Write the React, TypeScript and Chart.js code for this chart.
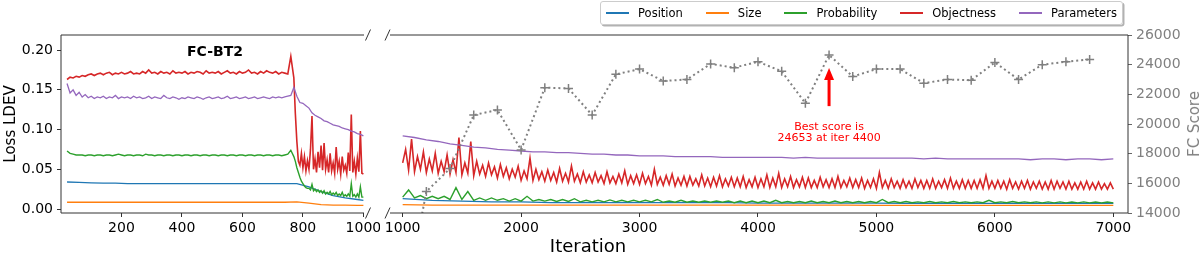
import React, { useEffect, useRef } from "react";
import { Chart, registerables } from "chart.js";
Chart.register(...registerables);

const FONT = "'DejaVu Sans', 'Liberation Sans', sans-serif";

// ---------- Data ----------
const seriesNames = ["Position", "Size", "Probability", "Objectness", "Parameters"];
const seriesColors = ["#1f77b4", "#ff7f0e", "#2ca02c", "#d62728", "#9467bd"];
const seriesWidths = [1.3, 1.3, 1.4, 1.6, 1.3];

// Left panel (iterations 0-1000)
const leftIter = [
  20, 30, 40, 50, 60, 70, 80, 90, 100, 110,
  120, 130, 140, 150, 160, 170, 180, 190, 200, 210,
  220, 230, 240, 250, 260, 270, 280, 290, 300, 310,
  320, 330, 340, 350, 360, 370, 380, 390, 400, 410,
  420, 430, 440, 450, 460, 470, 480, 490, 500, 510,
  520, 530, 540, 550, 560, 570, 580, 590, 600, 610,
  620, 630, 640, 650, 660, 670, 680, 690, 700, 710,
  720, 730, 740, 750, 760, 770, 780, 790, 800, 810,
  820, 830, 840, 850, 860, 870, 880, 890, 900, 910,
  920, 930, 940, 950, 960, 970, 980, 990, 1000,
];
const leftIterDense = [
  20, 30, 40, 50, 60, 70, 80, 90, 100, 110,
  120, 130, 140, 150, 160, 170, 180, 190, 200, 210,
  220, 230, 240, 250, 260, 270, 280, 290, 300, 310,
  320, 330, 340, 350, 360, 370, 380, 390, 400, 410,
  420, 430, 440, 450, 460, 470, 480, 490, 500, 510,
  520, 530, 540, 550, 560, 570, 580, 590, 600, 610,
  620, 630, 640, 650, 660, 670, 680, 690, 700, 710,
  720, 730, 740, 750, 760, 770,
  775, 780, 785, 790, 795, 800, 805, 810, 815, 820,
  825, 830, 835, 840, 845, 850, 855, 860, 865, 870,
  875, 880, 885, 890, 895, 900, 905, 910, 915, 920,
  925, 930, 935, 940, 945, 950, 955, 960, 965, 970,
  975, 980, 985, 990, 995, 1000,
];
const leftObjectness = [
  0.163, 0.166, 0.165, 0.167, 0.166, 0.168, 0.167, 0.169, 0.170, 0.168,
  0.170, 0.171, 0.169, 0.171, 0.172, 0.169, 0.171, 0.170, 0.172, 0.170,
  0.171, 0.173, 0.170, 0.171, 0.170, 0.173, 0.171, 0.175, 0.171, 0.172,
  0.170, 0.173, 0.171, 0.172, 0.170, 0.174, 0.171, 0.172, 0.171, 0.173,
  0.170, 0.172, 0.171, 0.173, 0.172, 0.170, 0.174, 0.171, 0.172, 0.171,
  0.173, 0.170, 0.172, 0.174, 0.171, 0.172, 0.170, 0.173, 0.171, 0.172,
  0.175, 0.171, 0.172, 0.170, 0.173, 0.171, 0.174, 0.172, 0.171, 0.173,
  0.170, 0.172, 0.171, 0.170, 0.192, 0.165,
  0.120, 0.085, 0.060, 0.055, 0.070, 0.052, 0.066, 0.048, 0.061, 0.050,
  0.075, 0.117, 0.050, 0.063, 0.046, 0.072, 0.052, 0.080, 0.049, 0.083,
  0.050, 0.062, 0.046, 0.070, 0.048, 0.058, 0.045, 0.078, 0.050, 0.060,
  0.044, 0.066, 0.049, 0.055, 0.045, 0.071, 0.048, 0.119, 0.046, 0.060,
  0.044, 0.064, 0.047, 0.098, 0.045, 0.044,
];
const leftProbability = [
  0.073, 0.070, 0.069, 0.068, 0.068, 0.068, 0.067, 0.068, 0.068, 0.067,
  0.068, 0.068, 0.067, 0.068, 0.068, 0.067, 0.068, 0.069, 0.068, 0.067,
  0.068, 0.068, 0.067, 0.068, 0.068, 0.067, 0.069, 0.068, 0.068, 0.067,
  0.068, 0.068, 0.067, 0.068, 0.068, 0.067, 0.068, 0.068, 0.067, 0.068,
  0.068, 0.067, 0.068, 0.068, 0.067, 0.068, 0.068, 0.067, 0.068, 0.068,
  0.067, 0.068, 0.068, 0.067, 0.068, 0.068, 0.067, 0.068, 0.068, 0.067,
  0.068, 0.068, 0.067, 0.068, 0.068, 0.067, 0.068, 0.068, 0.067, 0.068,
  0.068, 0.067, 0.068, 0.069, 0.074, 0.066,
  0.060, 0.052, 0.046, 0.040, 0.035, 0.032, 0.029, 0.027, 0.026, 0.026,
  0.024, 0.031, 0.023, 0.025, 0.022, 0.024, 0.021, 0.023, 0.020, 0.023,
  0.019, 0.021, 0.019, 0.022, 0.018, 0.020, 0.018, 0.021, 0.017, 0.019,
  0.017, 0.021, 0.016, 0.018, 0.016, 0.019, 0.016, 0.032, 0.016, 0.018,
  0.015, 0.019, 0.015, 0.028, 0.015, 0.015,
];
const leftParameters = [
  0.158, 0.146, 0.150, 0.143, 0.147, 0.141, 0.144, 0.140, 0.142, 0.139,
  0.141, 0.140, 0.142, 0.139, 0.141, 0.140, 0.143, 0.139, 0.141, 0.140,
  0.141, 0.139, 0.142, 0.140, 0.141, 0.139, 0.140, 0.142, 0.139, 0.141,
  0.140, 0.139, 0.143, 0.140, 0.139, 0.141, 0.140, 0.138, 0.140, 0.139,
  0.141, 0.140, 0.139, 0.141, 0.140, 0.138, 0.140, 0.141, 0.139, 0.140,
  0.141, 0.139, 0.140, 0.142, 0.139, 0.140, 0.141, 0.139, 0.140, 0.141,
  0.139, 0.140, 0.141, 0.139, 0.140, 0.141, 0.140, 0.139, 0.141, 0.140,
  0.141, 0.140, 0.141, 0.142, 0.143, 0.153, 0.142, 0.134, 0.133, 0.130,
  0.127, 0.121, 0.118, 0.116, 0.114, 0.111, 0.110, 0.108, 0.106, 0.105,
  0.104, 0.102, 0.101, 0.100, 0.098, 0.097, 0.095, 0.094, 0.092,
];
const leftIterCoarse = [
  20, 60, 100, 140, 180, 220, 260, 300, 340, 380, 420, 460, 500,
  540, 580, 620, 660, 700, 740, 780, 820, 860, 900, 940, 980, 1000,
];
const leftPosition = [
  0.034, 0.0335, 0.033, 0.0325, 0.0325, 0.032, 0.032, 0.032, 0.032, 0.032, 0.032, 0.032, 0.032,
  0.032, 0.032, 0.032, 0.032, 0.032, 0.032, 0.032, 0.028, 0.022, 0.017, 0.014, 0.012, 0.011,
];
const leftSize = [
  0.0085, 0.0085, 0.0085, 0.0085, 0.0085, 0.0085, 0.0085, 0.0085, 0.0085, 0.0085, 0.0085, 0.0085, 0.0085,
  0.0085, 0.0085, 0.0085, 0.0085, 0.0085, 0.0085, 0.009, 0.0075, 0.0055, 0.005, 0.0048, 0.0045, 0.0045,
];

// Right panel (iterations 1000-7000)
const rightIter25 = [
  1000, 1025, 1050, 1075, 1100, 1125, 1150, 1175,
  1200, 1225, 1250, 1275, 1300, 1325, 1350, 1375,
  1400, 1425, 1450, 1475, 1500, 1525, 1550, 1575,
  1600, 1625, 1650, 1675, 1700, 1725, 1750, 1775,
  1800, 1825, 1850, 1875, 1900, 1925, 1950, 1975,
  2000, 2025, 2050, 2075, 2100, 2125, 2150, 2175,
  2200, 2225, 2250, 2275, 2300, 2325, 2350, 2375,
  2400, 2425, 2450, 2475, 2500, 2525, 2550, 2575,
  2600, 2625, 2650, 2675, 2700, 2725, 2750, 2775,
  2800, 2825, 2850, 2875, 2900, 2925, 2950, 2975,
  3000, 3025, 3050, 3075, 3100, 3125, 3150, 3175,
  3200, 3225, 3250, 3275, 3300, 3325, 3350, 3375,
  3400, 3425, 3450, 3475, 3500, 3525, 3550, 3575,
  3600, 3625, 3650, 3675, 3700, 3725, 3750, 3775,
  3800, 3825, 3850, 3875, 3900, 3925, 3950, 3975,
  4000, 4025, 4050, 4075, 4100, 4125, 4150, 4175,
  4200, 4225, 4250, 4275, 4300, 4325, 4350, 4375,
  4400, 4425, 4450, 4475, 4500, 4525, 4550, 4575,
  4600, 4625, 4650, 4675, 4700, 4725, 4750, 4775,
  4800, 4825, 4850, 4875, 4900, 4925, 4950, 4975,
  5000, 5025, 5050, 5075, 5100, 5125, 5150, 5175,
  5200, 5225, 5250, 5275, 5300, 5325, 5350, 5375,
  5400, 5425, 5450, 5475, 5500, 5525, 5550, 5575,
  5600, 5625, 5650, 5675, 5700, 5725, 5750, 5775,
  5800, 5825, 5850, 5875, 5900, 5925, 5950, 5975,
  6000, 6025, 6050, 6075, 6100, 6125, 6150, 6175,
  6200, 6225, 6250, 6275, 6300, 6325, 6350, 6375,
  6400, 6425, 6450, 6475, 6500, 6525, 6550, 6575,
  6600, 6625, 6650, 6675, 6700, 6725, 6750, 6775,
  6800, 6825, 6850, 6875, 6900, 6925, 6950, 6975,
  7000,
];
const rightObjectness = [
  0.058, 0.075, 0.049, 0.088, 0.047, 0.066, 0.050, 0.072,
  0.046, 0.063, 0.048, 0.070, 0.045, 0.060, 0.047, 0.068,
  0.044, 0.062, 0.046, 0.090, 0.043, 0.058, 0.045, 0.085,
  0.042, 0.060, 0.044, 0.055, 0.041, 0.058, 0.043, 0.053,
  0.039, 0.056, 0.041, 0.052, 0.038, 0.050, 0.040, 0.054,
  0.036, 0.048, 0.038, 0.064, 0.036, 0.050, 0.037, 0.047,
  0.035, 0.049, 0.036, 0.046, 0.034, 0.051, 0.035, 0.045,
  0.034, 0.054, 0.035, 0.044, 0.033, 0.047, 0.034, 0.043,
  0.033, 0.046, 0.034, 0.042, 0.032, 0.047, 0.033, 0.041,
  0.032, 0.044, 0.033, 0.048, 0.031, 0.042, 0.032, 0.043,
  0.031, 0.045, 0.032, 0.041, 0.030, 0.050, 0.031, 0.040,
  0.030, 0.042, 0.031, 0.044, 0.029, 0.039, 0.030, 0.041,
  0.029, 0.041, 0.030, 0.038, 0.029, 0.043, 0.029, 0.039,
  0.028, 0.040, 0.029, 0.042, 0.028, 0.038, 0.029, 0.040,
  0.028, 0.039, 0.028, 0.041, 0.027, 0.037, 0.028, 0.040,
  0.027, 0.038, 0.028, 0.043, 0.027, 0.039, 0.028, 0.045,
  0.027, 0.038, 0.028, 0.041, 0.027, 0.037, 0.028, 0.040,
  0.027, 0.039, 0.027, 0.036, 0.027, 0.040, 0.028, 0.037,
  0.027, 0.038, 0.027, 0.041, 0.027, 0.036, 0.028, 0.039,
  0.027, 0.037, 0.027, 0.039, 0.026, 0.036, 0.027, 0.038,
  0.026, 0.046, 0.027, 0.036, 0.026, 0.038, 0.027, 0.035,
  0.026, 0.037, 0.027, 0.035, 0.026, 0.038, 0.027, 0.036,
  0.026, 0.036, 0.026, 0.038, 0.026, 0.035, 0.027, 0.037,
  0.026, 0.039, 0.026, 0.035, 0.026, 0.037, 0.026, 0.036,
  0.026, 0.036, 0.026, 0.037, 0.026, 0.042, 0.026, 0.035,
  0.026, 0.036, 0.026, 0.035, 0.025, 0.037, 0.026, 0.034,
  0.025, 0.035, 0.026, 0.036, 0.025, 0.034, 0.026, 0.035,
  0.025, 0.034, 0.025, 0.036, 0.025, 0.035, 0.026, 0.034,
  0.025, 0.035, 0.025, 0.033, 0.025, 0.034, 0.025, 0.035,
  0.025, 0.033, 0.025, 0.034, 0.025, 0.032, 0.025, 0.033,
  0.025,
];
const rightIter50 = [
  1000, 1050, 1100, 1150, 1200, 1250, 1300, 1350, 1400, 1450,
  1500, 1550, 1600, 1650, 1700, 1750, 1800, 1850, 1900, 1950,
  2000, 2050, 2100, 2150, 2200, 2250, 2300, 2350, 2400, 2450,
  2500, 2550, 2600, 2650, 2700, 2750, 2800, 2850, 2900, 2950,
  3000, 3050, 3100, 3150, 3200, 3250, 3300, 3350, 3400, 3450,
  3500, 3550, 3600, 3650, 3700, 3750, 3800, 3850, 3900, 3950,
  4000, 4050, 4100, 4150, 4200, 4250, 4300, 4350, 4400, 4450,
  4500, 4550, 4600, 4650, 4700, 4750, 4800, 4850, 4900, 4950,
  5000, 5050, 5100, 5150, 5200, 5250, 5300, 5350, 5400, 5450,
  5500, 5550, 5600, 5650, 5700, 5750, 5800, 5850, 5900, 5950,
  6000, 6050, 6100, 6150, 6200, 6250, 6300, 6350, 6400, 6450,
  6500, 6550, 6600, 6650, 6700, 6750, 6800, 6850, 6900, 6950,
  7000,
];
const rightProbability = [
  0.015, 0.024, 0.014, 0.017, 0.013, 0.016, 0.013, 0.016, 0.012, 0.027,
  0.012, 0.022, 0.011, 0.014, 0.011, 0.014, 0.011, 0.013, 0.010, 0.013,
  0.010, 0.016, 0.010, 0.012, 0.010, 0.012, 0.0095, 0.012, 0.0095, 0.013,
  0.009, 0.011, 0.009, 0.011, 0.009, 0.0115, 0.009, 0.011, 0.009, 0.011,
  0.009, 0.011, 0.009, 0.012, 0.0085, 0.010, 0.0085, 0.011, 0.0085, 0.010,
  0.0085, 0.010, 0.0085, 0.010, 0.0085, 0.010, 0.008, 0.010, 0.008, 0.010,
  0.008, 0.010, 0.008, 0.011, 0.008, 0.0095, 0.008, 0.0095, 0.008, 0.010,
  0.008, 0.0095, 0.008, 0.010, 0.008, 0.0095, 0.008, 0.0095, 0.008, 0.0095,
  0.008, 0.012, 0.008, 0.0095, 0.008, 0.0095, 0.008, 0.009, 0.008, 0.0095,
  0.008, 0.009, 0.008, 0.0095, 0.008, 0.009, 0.008, 0.009, 0.008, 0.011,
  0.008, 0.009, 0.008, 0.0095, 0.008, 0.009, 0.008, 0.009, 0.0078, 0.009,
  0.0078, 0.009, 0.0078, 0.0088, 0.0078, 0.009, 0.0078, 0.0088, 0.0078, 0.0088,
  0.0078,
];
const rightIter100 = [
  1000, 1100, 1200, 1300, 1400, 1500, 1600, 1700, 1800, 1900,
  2000, 2100, 2200, 2300, 2400, 2500, 2600, 2700, 2800, 2900,
  3000, 3100, 3200, 3300, 3400, 3500, 3600, 3700, 3800, 3900,
  4000, 4100, 4200, 4300, 4400, 4500, 4600, 4700, 4800, 4900,
  5000, 5100, 5200, 5300, 5400, 5500, 5600, 5700, 5800, 5900,
  6000, 6100, 6200, 6300, 6400, 6500, 6600, 6700, 6800, 6900,
  7000,
];
const rightParameters = [
  0.092, 0.090, 0.087, 0.085, 0.082, 0.080, 0.078, 0.077, 0.075, 0.074,
  0.073, 0.072, 0.072, 0.071, 0.071, 0.070, 0.069, 0.069, 0.068, 0.068,
  0.067, 0.067, 0.067, 0.066, 0.066, 0.066, 0.066, 0.065, 0.065, 0.065,
  0.065, 0.065, 0.065, 0.064, 0.065, 0.064, 0.064, 0.064, 0.064, 0.064,
  0.064, 0.064, 0.064, 0.064, 0.063, 0.064, 0.063, 0.063, 0.063, 0.063,
  0.063, 0.063, 0.063, 0.062, 0.063, 0.063, 0.062, 0.063, 0.063, 0.062,
  0.063,
];
const rightIter250 = [
  1000, 1250, 1500, 1750, 2000, 2250, 2500, 2750, 3000, 3250, 3500, 3750, 4000,
  4250, 4500, 4750, 5000, 5250, 5500, 5750, 6000, 6250, 6500, 6750, 7000,
];
const rightPosition = [
  0.013, 0.011, 0.010, 0.009, 0.009, 0.008, 0.008, 0.008, 0.008, 0.008, 0.008, 0.008, 0.0075,
  0.0075, 0.0075, 0.0075, 0.0075, 0.007, 0.007, 0.007, 0.007, 0.007, 0.007, 0.007, 0.007,
];
const rightSize = [
  0.0055, 0.005, 0.005, 0.005, 0.005, 0.005, 0.005, 0.005, 0.005, 0.005, 0.005, 0.005, 0.0048,
  0.0048, 0.0048, 0.0048, 0.0046, 0.0046, 0.0046, 0.0045, 0.0045, 0.0045, 0.0045, 0.0045, 0.0045,
];

// FC score (secondary axis)
const fcIter = [
  1000, 1200, 1400, 1600, 1800, 2000, 2200, 2400, 2600, 2800,
  3000, 3200, 3400, 3600, 3800, 4000, 4200, 4400, 4600, 4800,
  5000, 5200, 5400, 5600, 5800, 6000, 6200, 6400, 6600, 6800,
];
const fcScore = [
  7000, 15450, 17000, 20600, 20950, 18250, 22450, 22400, 20600, 23350,
  23700, 22900, 23000, 24050, 23800, 24200, 23550, 21400, 24653, 23200,
  23700, 23700, 22750, 23000, 22950, 24150, 23000, 24000, 24200, 24350,
];

// Ticks
const leftXTicks = [200, 400, 600, 800, 1000];
const rightXTicks = [1000, 2000, 3000, 4000, 5000, 6000, 7000];
const lossTicks = [0, 0.05, 0.1, 0.15, 0.2];
const fcTicks = [14000, 16000, 18000, 20000, 22000, 24000, 26000];

// Annotation
const bestIter = 4600;
const arrowTipScore = 23772;
const arrowTailScore = 21205;
const annotLines = ["Best score is", "24653 at iter 4400"];

// ---------- Helpers ----------
const pts = (xs: number[], ys: number[]) => xs.map((x, i) => ({ x, y: ys[i] }));

function lossDs(idx: number, xs: number[], ys: number[]) {
  return {
    label: seriesNames[idx],
    data: pts(xs, ys),
    borderColor: seriesColors[idx],
    backgroundColor: seriesColors[idx],
    borderWidth: seriesWidths[idx],
    pointRadius: 0,
    tension: 0,
    order: 10 - idx,
    yAxisID: "y",
  };
}

const FRAME = "#333";

function framePlugin(side: "left" | "right") {
  return {
    id: "frame-" + side,
    afterDatasetsDraw(chart: any) {
      const { ctx, chartArea: a } = chart;
      ctx.save();
      ctx.strokeStyle = FRAME;
      ctx.lineWidth = 1;
      ctx.beginPath();
      ctx.moveTo(a.left, a.top);
      ctx.lineTo(a.right, a.top);
      ctx.moveTo(a.left, a.bottom);
      ctx.lineTo(a.right, a.bottom);
      if (side === "left") {
        ctx.moveTo(a.left, a.top);
        ctx.lineTo(a.left, a.bottom);
      } else {
        ctx.moveTo(a.right, a.top);
        ctx.lineTo(a.right, a.bottom);
      }
      ctx.stroke();
      const cx = side === "left" ? a.right + 4 : a.left - 2.5;
      ctx.beginPath();
      for (const y of [a.top, a.bottom]) {
        ctx.moveTo(cx - 2.5, y + 5.5);
        ctx.lineTo(cx + 2.5, y - 5.5);
      }
      ctx.stroke();
      ctx.restore();
    },
  };
}

const annotPlugin = {
  id: "annot",
  afterDatasetsDraw(chart: any) {
    const { ctx } = chart;
    const x = chart.scales.x.getPixelForValue(bestIter);
    const yTip = chart.scales.y2.getPixelForValue(arrowTipScore);
    const yTail = chart.scales.y2.getPixelForValue(arrowTailScore);
    ctx.save();
    ctx.strokeStyle = "#ff0000";
    ctx.fillStyle = "#ff0000";
    ctx.lineWidth = 3;
    ctx.beginPath();
    ctx.moveTo(x, yTail);
    ctx.lineTo(x, yTip + 10);
    ctx.stroke();
    ctx.beginPath();
    ctx.moveTo(x, yTip);
    ctx.lineTo(x - 5, yTip + 12);
    ctx.lineTo(x + 5, yTip + 12);
    ctx.closePath();
    ctx.fill();
    ctx.font = `11px ${FONT}`;
    ctx.textAlign = "center";
    ctx.textBaseline = "middle";
    ctx.fillText(annotLines[0], x, yTail + 21);
    ctx.fillText(annotLines[1], x, yTail + 32);
    ctx.restore();
  },
};

function xAxis(min: number, max: number, ticks: number[]) {
  return {
    type: "linear" as const,
    min,
    max,
    afterBuildTicks: (s: any) => {
      s.ticks = ticks.map((v) => ({ value: v }));
    },
    afterFit: (s: any) => {
      s.height = 40;
      s.paddingLeft = 0;
      s.paddingRight = 0;
    },
    grid: { drawOnChartArea: false, drawTicks: true, tickLength: 4, tickColor: FRAME, tickWidth: 1 },
    border: { display: false },
    ticks: {
      color: "#000",
      font: { family: FONT, size: 14 },
      padding: 3,
      maxRotation: 0,
      autoSkip: false,
      callback: (v: any) => String(v),
    },
  };
}

const lossMin = -0.005;
const lossMax = 0.219;

export default function App() {
  const leftRef = useRef<HTMLCanvasElement>(null);
  const rightRef = useRef<HTMLCanvasElement>(null);

  useEffect(() => {
    document.body.style.margin = "0";
    const left = new Chart(leftRef.current as HTMLCanvasElement, {
      type: "line",
      data: {
        datasets: [
          lossDs(0, leftIterCoarse, leftPosition),
          lossDs(1, leftIterCoarse, leftSize),
          lossDs(2, leftIterDense, leftProbability),
          lossDs(3, leftIterDense, leftObjectness),
          lossDs(4, leftIter, leftParameters),
        ] as any,
      },
      options: {
        responsive: false,
        animation: false,
        devicePixelRatio: 1,
        layout: { padding: { top: 35, right: 16, left: 0, bottom: 0 } },
        plugins: { legend: { display: false }, tooltip: { enabled: false } },
        scales: {
          x: xAxis(0, 1002, leftXTicks) as any,
          y: {
            type: "linear",
            min: lossMin,
            max: lossMax,
            afterBuildTicks: (s: any) => {
              s.ticks = lossTicks.map((v) => ({ value: v }));
            },
            afterFit: (s: any) => {
              s.width = 61;
              s.paddingTop = 0;
              s.paddingBottom = 0;
            },
            grid: { drawOnChartArea: false, drawTicks: true, tickLength: 4, tickColor: FRAME, tickWidth: 1 },
            border: { display: false },
            ticks: {
              color: "#000",
              font: { family: FONT, size: 14 },
              padding: 4,
              callback: (v: any) => Number(v).toFixed(2),
            },
            title: {
              display: true,
              text: "Loss LDEV",
              color: "#000",
              font: { family: FONT, size: 15 },
              padding: { top: 2, bottom: 0 },
            },
          },
        },
      },
      plugins: [framePlugin("left")],
    });

    const right = new Chart(rightRef.current as HTMLCanvasElement, {
      type: "line",
      data: {
        datasets: [
          lossDs(0, rightIter250, rightPosition),
          lossDs(1, rightIter250, rightSize),
          lossDs(2, rightIter50, rightProbability),
          lossDs(3, rightIter25, rightObjectness),
          lossDs(4, rightIter100, rightParameters),
          {
            label: "FC Score",
            data: pts(fcIter, fcScore),
            borderColor: "#808080",
            backgroundColor: "#808080",
            borderWidth: 2,
            borderDash: [2, 3],
            pointStyle: "cross",
            pointRadius: 4.5,
            pointBorderWidth: 1.5,
            pointBorderColor: "#808080",
            tension: 0,
            order: 0,
            yAxisID: "y2",
          },
        ] as any,
      },
      options: {
        responsive: false,
        animation: false,
        devicePixelRatio: 1,
        layout: { padding: { top: 35, right: 0, left: 10, bottom: 0 } },
        plugins: { legend: { display: false }, tooltip: { enabled: false } },
        scales: {
          x: xAxis(893, 7124, rightXTicks) as any,
          y: {
            type: "linear",
            display: false,
            min: lossMin,
            max: lossMax,
          },
          y2: {
            type: "linear",
            position: "right",
            min: 14000,
            max: 26000,
            afterBuildTicks: (s: any) => {
              s.ticks = fcTicks.map((v) => ({ value: v }));
            },
            afterFit: (s: any) => {
              s.width = 72;
              s.paddingTop = 0;
              s.paddingBottom = 0;
            },
            grid: { drawOnChartArea: false, drawTicks: true, tickLength: 4, tickColor: "#666", tickWidth: 1 },
            border: { display: false },
            ticks: {
              color: "#808080",
              font: { family: FONT, size: 14 },
              padding: 4,
              callback: (v: any) => String(v),
            },
          },
        },
      },
      plugins: [framePlugin("right"), annotPlugin],
    });

    return () => {
      left.destroy();
      right.destroy();
    };
  }, []);

  return (
    <div
      style={{
        position: "fixed",
        left: 0,
        top: 0,
        width: 1200,
        height: 253,
        background: "#fff",
        fontFamily: FONT,
        overflow: "hidden",
      }}
    >
      <canvas
        ref={leftRef}
        width={380}
        height={253}
        style={{ position: "absolute", left: 0, top: 0, width: 380, height: 253 }}
      />
      <canvas
        ref={rightRef}
        width={820}
        height={253}
        style={{ position: "absolute", left: 380, top: 0, width: 820, height: 253 }}
      />
      <div
        style={{
          position: "absolute",
          left: 215,
          top: 51,
          transform: "translate(-50%, -50%)",
          fontWeight: "bold",
          fontSize: 14,
          whiteSpace: "nowrap",
        }}
      >
        FC-BT2
      </div>
      <div
        style={{
          position: "absolute",
          left: 588,
          top: 245,
          transform: "translate(-50%, -50%)",
          fontSize: 18,
          whiteSpace: "nowrap",
        }}
      >
        Iteration
      </div>
      <div
        style={{
          position: "absolute",
          left: 1194,
          top: 124,
          transform: "translate(-50%, -50%) rotate(-90deg)",
          fontSize: 15,
          color: "#808080",
          whiteSpace: "nowrap",
        }}
      >
        FC Score
      </div>
      <div
        style={{
          position: "absolute",
          left: 600,
          top: 1,
          width: 523,
          height: 24,
          boxSizing: "border-box",
          border: "1px solid #cccccc",
          borderRadius: 3,
          background: "rgba(255,255,255,0.9)",
          boxShadow: "1.5px 1.5px 0 rgba(0,0,0,0.3)",
          display: "flex",
          alignItems: "center",
          justifyContent: "center",
          fontSize: 11.5,
          whiteSpace: "nowrap",
        }}
      >
        {seriesNames.map((name, i) => (
          <div key={name} style={{ display: "flex", alignItems: "center", marginLeft: i ? 23 : 0 }}>
            <span
              style={{
                display: "inline-block",
                width: 23,
                height: 1.5,
                background: seriesColors[i],
                marginRight: 9,
              }}
            />
            <span>{name}</span>
          </div>
        ))}
      </div>
    </div>
  );
}
